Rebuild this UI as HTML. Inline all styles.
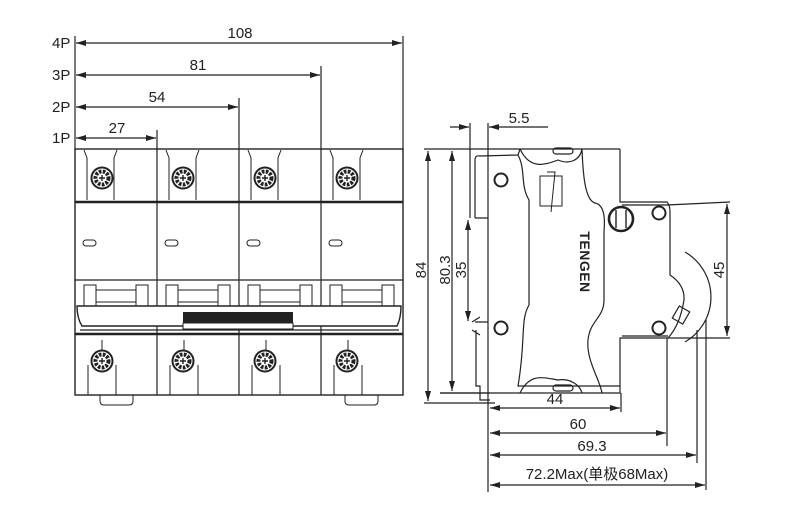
<!DOCTYPE html>
<html><head><meta charset="utf-8"><style>
html,body{margin:0;padding:0;background:#fff;}
svg{display:block;}
text{font-family:"Liberation Sans","Noto Sans CJK SC",sans-serif;fill:#222;}
</style></head><body>
<svg width="790" height="523" viewBox="0 0 790 523" xmlns="http://www.w3.org/2000/svg">
<defs>
<marker id="a" viewBox="0 0 10 6" refX="10" refY="3" markerWidth="11" markerHeight="6" orient="auto-start-reverse" markerUnits="userSpaceOnUse"><path d="M0,0 L10,3 L0,6 z" fill="#222"/></marker>
<g id="scr"><circle r="10.5" fill="#fff" stroke="#222" stroke-width="2"/><circle r="6.5" fill="none" stroke="#222" stroke-width="4" stroke-dasharray="2.6 1.3"/><path d="M-3,0H3M0,-3V3" stroke="#222" stroke-width="1.4"/></g>
</defs>
<g stroke="#222" fill="none" stroke-width="1.2">
<line x1="75" y1="36" x2="75" y2="150"/>
<line x1="403" y1="36" x2="403" y2="150"/>
<line x1="321" y1="66" x2="321" y2="150"/>
<line x1="239" y1="98" x2="239" y2="150"/>
<line x1="157" y1="130" x2="157" y2="150"/>
<line x1="76" y1="43" x2="402" y2="43" marker-start="url(#a)" marker-end="url(#a)"/>
<line x1="76" y1="75" x2="320" y2="75" marker-start="url(#a)" marker-end="url(#a)"/>
<line x1="76" y1="107" x2="238" y2="107" marker-start="url(#a)" marker-end="url(#a)"/>
<line x1="76" y1="138" x2="156" y2="138" marker-start="url(#a)" marker-end="url(#a)"/>
<rect x="75" y="149" width="328" height="246" stroke-width="1.4"/>
<line x1="157" y1="149" x2="157" y2="395"/><line x1="239" y1="149" x2="239" y2="395"/><line x1="321" y1="149" x2="321" y2="395"/>
<line x1="75" y1="202" x2="403" y2="202" stroke-width="2.5"/>
<line x1="75" y1="280" x2="403" y2="280"/>
<line x1="75" y1="334" x2="403" y2="334" stroke-width="2.5"/>
<path d="M77,306 H401 Q401,318 397,326 H82 Q77,318 77,306z" fill="#fff" stroke-width="1.4"/>
<line x1="80" y1="330" x2="399" y2="330"/>
</g>
<rect x="183" y="312" width="110" height="11" fill="#222"/>
<rect x="183" y="323" width="110" height="6" fill="#fff" stroke="#222"/>
<g stroke="#222" fill="none" stroke-width="1">
<g id="pole">
<path d="M84,150 L87,158 V200 M117,150 L114,158 V200"/>
<path d="M88,395 V365 M116,395 V365 M102,350 V340"/>
<rect x="84" y="285" width="12" height="21"/><rect x="136" y="285" width="12" height="21"/>
<line x1="96" y1="290" x2="136" y2="290"/><line x1="96" y1="302" x2="136" y2="302"/>
<rect x="83" y="240" width="13" height="6" rx="3"/>
</g>
<use href="#pole" x="82"/><use href="#pole" x="164"/><use href="#pole" x="246"/>
<path d="M100,395 v6 q0,4 4,4 h25 q4,0 4,-4 v-6"/>
<path d="M345,395 v6 q0,4 4,4 h25 q4,0 4,-4 v-6"/>
</g>
<use href="#scr" x="102" y="178"/><use href="#scr" x="183" y="178"/><use href="#scr" x="265" y="178"/><use href="#scr" x="347" y="178"/>
<use href="#scr" x="102" y="361"/><use href="#scr" x="183" y="361"/><use href="#scr" x="265" y="361"/><use href="#scr" x="347" y="361"/>
<g font-size="15">
<text x="240" y="38" text-anchor="middle">108</text>
<text x="198" y="70" text-anchor="middle">81</text>
<text x="157" y="102" text-anchor="middle">54</text>
<text x="117" y="133" text-anchor="middle">27</text>
<text x="52" y="48">4P</text><text x="52" y="80">3P</text><text x="52" y="112">2P</text><text x="52" y="143">1P</text>
</g>
<g stroke="#222" fill="none" stroke-width="1.2">
<line x1="470" y1="123" x2="470" y2="218"/>
<line x1="488" y1="123" x2="488" y2="492"/>
<line x1="450" y1="127" x2="469" y2="127" marker-end="url(#a)"/>
<line x1="548" y1="127" x2="489" y2="127" marker-end="url(#a)"/>
<line x1="424" y1="149" x2="620" y2="149"/>
<line x1="440" y1="393" x2="490" y2="393"/>
<line x1="424" y1="403" x2="495" y2="403"/>
<line x1="428" y1="151" x2="428" y2="401" marker-start="url(#a)" marker-end="url(#a)"/>
<line x1="452" y1="151" x2="452" y2="391" marker-start="url(#a)" marker-end="url(#a)"/>
<line x1="468" y1="220" x2="468" y2="321" marker-start="url(#a)" marker-end="url(#a)"/>
<path d="M475,218 V160 Q475,155 480,156 L518,155 L520,149"/>
<path d="M475,218 H488 M475,322 H488"/>
<path d="M472,322 l8,-5 M472,330 l8,5 M476,330 V386 H480 V400 H490"/>
<path d="M518,155 C526,170 520,185 529,200 V305 C520,320 526,340 518,386 H620"/>
<path d="M520,149 C530,170 545,165 558,160 C570,165 580,160 582,149"/>
<path d="M520,393 C530,372 545,378 558,380 C570,378 580,385 582,393"/>
<rect x="553" y="148" width="20" height="6" rx="3"/>
<rect x="553" y="385" width="20" height="6" rx="3"/>
<path d="M582,149 C583,175 585,200 595,203 C605,205 605,220 604,232 V300 C604,318 590,320 588,340 C586,360 600,380 602,393"/>
<path d="M620,149 V202 H667 Q670,205 670,212 V275 Q685,285 684,300 Q680,325 668,338 H620 V393 H440"/>
<path d="M622,205 H668 M622,336 H668"/>
<path d="M685,252 A52,52 0 0 1 685,342"/>
<rect x="675" y="308" width="12" height="14" transform="rotate(30 681 315)"/>
<line x1="667" y1="205" x2="730" y2="202"/>
<line x1="668" y1="338" x2="730" y2="338"/>
<line x1="727" y1="204" x2="727" y2="336" marker-start="url(#a)" marker-end="url(#a)"/>
<line x1="621" y1="393" x2="621" y2="412"/>
<line x1="667" y1="338" x2="667" y2="446"/>
<line x1="697" y1="330" x2="697" y2="463"/>
<line x1="706" y1="320" x2="706" y2="490"/>
<line x1="490" y1="408" x2="620" y2="408" marker-start="url(#a)" marker-end="url(#a)"/>
<line x1="490" y1="433" x2="666" y2="433" marker-start="url(#a)" marker-end="url(#a)"/>
<line x1="490" y1="455" x2="696" y2="455" marker-start="url(#a)" marker-end="url(#a)"/>
<line x1="490" y1="485" x2="705" y2="485" marker-start="url(#a)" marker-end="url(#a)"/>
<rect x="540" y="176" width="22" height="30" stroke-width="1"/>
<path d="M547,172 l8,0 l-4,40" stroke-width="1"/>
</g>
<g fill="#fff" stroke="#222" stroke-width="2">
<circle cx="501" cy="180" r="6.5"/><circle cx="501" cy="328" r="6.5"/>
<circle cx="659" cy="213" r="6.5"/><circle cx="659" cy="328" r="6.5"/>
<circle cx="621" cy="219" r="12" stroke-width="2.6"/>
</g>
<line x1="616" y1="210" x2="616" y2="228" stroke="#222" stroke-width="1.4"/><line x1="626" y1="210" x2="626" y2="228" stroke="#222" stroke-width="1.4"/>
<g font-size="15">
<text x="519" y="123" text-anchor="middle">5.5</text>
<text transform="translate(426,270) rotate(-90)" text-anchor="middle">84</text>
<text transform="translate(450,270) rotate(-90)" text-anchor="middle">80.3</text>
<text transform="translate(466,270) rotate(-90)" text-anchor="middle">35</text>
<text transform="translate(724,270) rotate(-90)" text-anchor="middle">45</text>
<text x="555" y="404" text-anchor="middle">44</text>
<text x="578" y="429" text-anchor="middle">60</text>
<text x="592" y="451" text-anchor="middle">69.3</text>
<text x="597" y="479" text-anchor="middle">72.2Max(单极68Max)</text>
</g>
<text transform="translate(580,262) rotate(90)" text-anchor="middle" font-size="14" font-weight="bold" letter-spacing="0.5">TENGEN</text>
</svg>
</body></html>
